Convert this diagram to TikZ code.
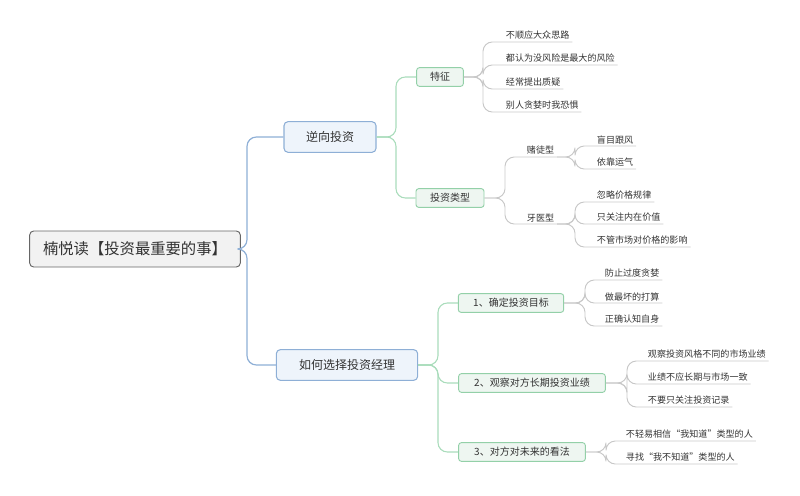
\documentclass[tikz,border=0pt]{standalone}
\usepackage{fontspec}
\newfontfamily\cjk{Noto Sans CJK SC}
\definecolor{bline}{HTML}{8EAFD6}
\definecolor{bfill}{HTML}{EEF4FB}
\definecolor{gline}{HTML}{A9DCBB}
\definecolor{gedge}{HTML}{93D0A8}
\definecolor{gfill}{HTML}{EEF6F1}
\definecolor{lline}{HTML}{C8C8C8}
\definecolor{txt}{HTML}{333333}
\begin{document}
\begin{tikzpicture}[x=0.75pt,y=-0.75pt,font=\cjk,
  bl/.style={draw=bline, line width=0.9pt, rounded corners=7pt},
  gl/.style={draw=gline, line width=0.8pt, rounded corners=7pt},
  gr/.style={draw=lline, line width=0.7pt, rounded corners=7pt},
  rootbox/.style={draw=gray!80!black, fill=gray!10, rounded corners=3pt, line width=0.7pt, font=\cjk\fontsize{11.5}{13}\selectfont, minimum height=27pt, minimum width=158pt, text=txt},
  bbox/.style={draw=bline, fill=bfill, rounded corners=3pt, line width=0.8pt, font=\cjk\fontsize{9}{11}\selectfont, minimum height=23pt, text=txt},
  gbox/.style={draw=gedge, fill=gfill, rounded corners=2pt, line width=0.7pt, font=\cjk\fontsize{7.5}{9}\selectfont, minimum height=14pt, text=txt},
  leaf/.style={anchor=south west, inner xsep=2pt, inner ysep=1.5pt, font=\cjk\fontsize{6.8}{8}\selectfont, text=txt}]
\useasboundingbox (0,0) rectangle (800,496);
\node[rootbox] (root) at (135,249) {楠悦读【投资最重要的事】};
\node[bbox, minimum width=69pt] (a) at (330,137) {逆向投资};
\node[bbox, minimum width=106pt] (b) at (347,365) {如何选择投资经理};
\draw[bl] (root.east) -- (247,249) |- (a.west);
\draw[bl] (root.east) -- (247,249) |- (b.west);
% A branch
\node[gbox, minimum width=35pt] (a1) at (440,77) {特征};
\node[gbox, minimum width=51pt] (a2) at (450,198) {投资类型};
\draw[gl] (a.east) -- (396,137) |- (a1.west);
\draw[gl] (a.east) -- (396,137) |- (a2.west);
\node[leaf] (l1) at (503,42) {不顺应大众思路};
\node[leaf] (l2) at (503,65) {都认为没风险是最大的风险};
\node[leaf] (l3) at (503,89) {经常提出质疑};
\node[leaf] (l4) at (503,112) {别人贪婪时我恐惧};
\foreach \n in {l1,l2,l3,l4} \draw[gr] (a1.east) -- (483,77) |- (\n.south east);
\node[leaf] (t1) at (524,157) {赌徒型};
\node[leaf] (t2) at (524,224) {牙医型};
\foreach \n in {t1,t2} \draw[gr] (a2.east) -- (505,198) |- (\n.south east);
\node[leaf] (s1) at (594,146) {盲目跟风};
\node[leaf] (s2) at (594,169) {依靠运气};
\foreach \n in {s1,s2} \draw[gr] (t1.south east) -- (575,157) |- (\n.south east);
\node[leaf] (d1) at (594,202) {忽略价格规律};
\node[leaf] (d2) at (594,224) {只关注内在价值};
\node[leaf] (d3) at (594,247) {不管市场对价格的影响};
\foreach \n in {d1,d2,d3} \draw[gr] (t2.south east) -- (575,224) |- (\n.south east);
% B branch
\node[gbox, minimum width=79pt] (b1) at (511,303) {1、确定投资目标};
\node[gbox, minimum width=110pt] (b2) at (532,383) {2、观察对方长期投资业绩};
\node[gbox, minimum width=95pt] (b3) at (522,452) {3、对方对未来的看法};
\foreach \n in {b1,b2,b3} \draw[gl] (b.east) -- (438,365) |- (\n.west);
\node[leaf] (p1) at (602,280) {防止过度贪婪};
\node[leaf] (p2) at (602,303) {做最坏的打算};
\node[leaf] (p3) at (602,326) {正确认知自身};
\foreach \n in {p1,p2,p3} \draw[gr] (b1.east) -- (585,303) |- (\n.south east);
\node[leaf] (q1) at (645,361) {观察投资风格不同的市场业绩};
\node[leaf] (q2) at (645,384) {业绩不应长期与市场一致};
\node[leaf] (q3) at (645,407) {不要只关注投资记录};
\foreach \n in {q1,q2,q3} \draw[gr] (b2.east) -- (627,383) |- (\n.south east);
\node[leaf] (r1) at (623,441) {不轻易相信“我知道”类型的人};
\node[leaf] (r2) at (623,464) {寻找“我不知道”类型的人};
\foreach \n in {r1,r2} \draw[gr] (b3.east) -- (606,452) |- (\n.south east);
\end{tikzpicture}
\end{document}
